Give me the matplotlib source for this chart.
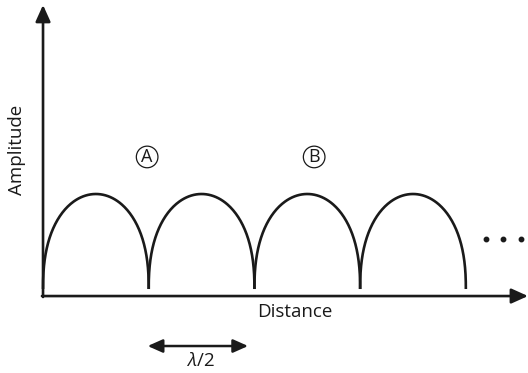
import numpy as np
import matplotlib
matplotlib.use("Agg")
import matplotlib.pyplot as plt

# Lobe boundaries along the distance axis, in units of half a wavelength
lobe_edges = [0.0, 1.0, 2.0, 3.0, 4.0]
lobe_height = 1.0
region_labels = ["A", "B"]
region_x = [0.985, 2.565]
region_y = 1.39
axis_label_x = "Distance"
axis_label_y = "Amplitude"
span_label = r"$\lambda$/2"

plt.rcParams["mathtext.fontset"] = "custom"
plt.rcParams["mathtext.it"] = "Open Sans:italic"
plt.rcParams["mathtext.rm"] = "Open Sans"

fig = plt.figure(figsize=(5.28, 3.73), dpi=100)
ax = fig.add_axes([0, 0, 1, 1])
ax.set_xlim(-0.407, 4.588)
ax.set_ylim(-0.884, 3.042)
ax.axis("off")

ink = "#1a1a1a"
font = ["Open Sans", "DejaVu Sans"]

# Arched lobes between successive nulls
for left, right in zip(lobe_edges[:-1], lobe_edges[1:]):
    t = np.linspace(0, np.pi, 200)
    mid = (left + right) / 2
    half = (right - left) / 2
    xs = mid - half * np.cos(t)
    ys = lobe_height * np.sin(t) ** 0.85
    ax.plot(xs, ys, color=ink, lw=1.9, solid_capstyle="butt")

# Axes with arrowheads
base = -0.074
head = dict(arrowstyle="-|>,head_length=1.0,head_width=0.45", color=ink,
            lw=1.9, shrinkA=0, shrinkB=0)
ax.annotate("", xy=(0, 2.99), xytext=(0, base - 0.01), arrowprops=head)
ax.annotate("", xy=(4.588, base), xytext=(-0.01, base), arrowprops=head)

# Continuation dots
ax.plot([4.19, 4.35, 4.52], [0.526] * 3, "o", color=ink, ms=3.2)

# Circled region labels
for lab, x in zip(region_labels, region_x):
    ax.text(x, region_y, lab, ha="center", va="center", fontsize=13,
            family=font, color=ink,
            bbox=dict(boxstyle="circle,pad=0.1", fc="white", ec=ink, lw=0.9))

# Axis titles
ax.text(2.385, -0.24, axis_label_x, ha="center", va="center", fontsize=13.5,
        family=font, color=ink)
ax.text(-0.245, 1.46, axis_label_y, ha="center", va="center", fontsize=13.5,
        family=font, color=ink, rotation=90)

# Half-wavelength span marker
span = dict(arrowstyle="<|-|>,head_length=0.9,head_width=0.4", color=ink,
            lw=1.8, shrinkA=0, shrinkB=0)
ax.annotate("", xy=(0.99, -0.60), xytext=(1.94, -0.60), arrowprops=span)
ax.text(1.485, -0.76, span_label, ha="center", va="center", fontsize=13.5,
        family=font, color=ink)

fig.savefig("out.png", dpi=100)
